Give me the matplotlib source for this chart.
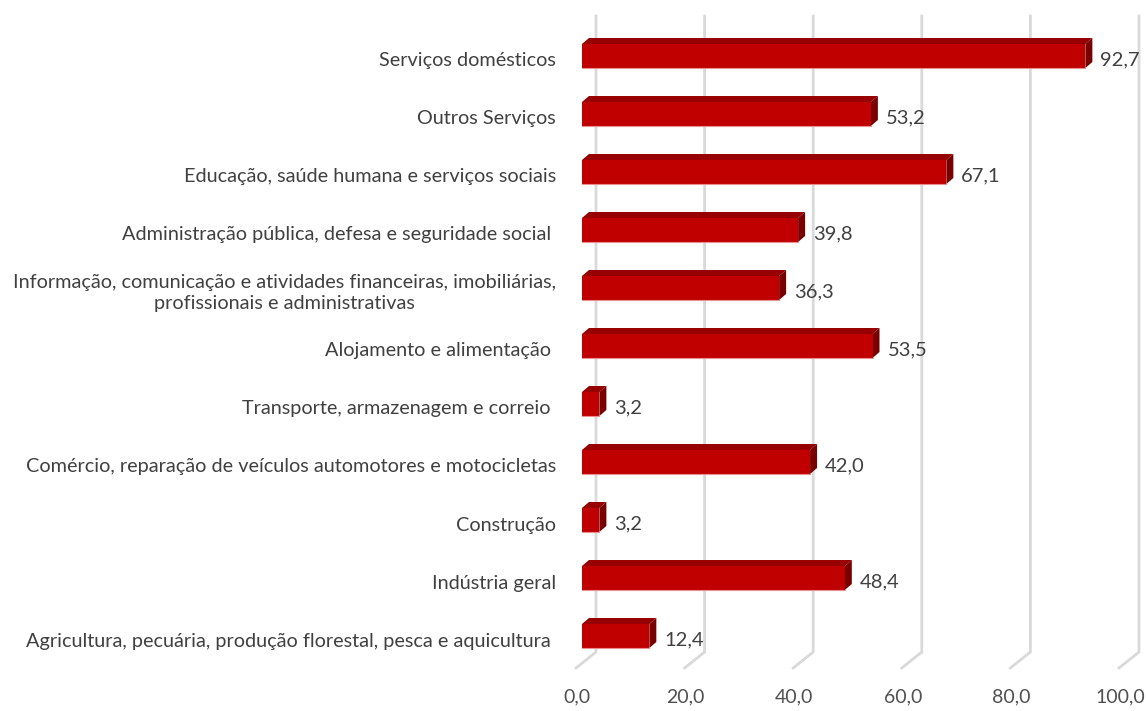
import matplotlib
matplotlib.use("Agg")
import matplotlib.pyplot as plt
from matplotlib.patches import Polygon, Rectangle

categories = [
    "Agricultura, pecuária, produção florestal, pesca e aquicultura ",
    "Indústria geral",
    "Construção",
    "Comércio, reparação de veículos automotores e motocicletas",
    "Transporte, armazenagem e correio ",
    "Alojamento e alimentação ",
    "Informação, comunicação e atividades financeiras, imobiliárias,\nprofissionais e administrativas",
    "Administração pública, defesa e seguridade social ",
    "Educação, saúde humana e serviços sociais",
    "Outros Serviços",
    "Serviços domésticos",
]
values = [12.4, 48.4, 3.2, 42.0, 3.2, 53.5, 36.3, 39.8, 67.1, 53.2, 92.7]
ticks = [0, 20, 40, 60, 80, 100]
tick_labels = ["0,0", "20,0", "40,0", "60,0", "80,0", "100,0"]

W, H = 1146, 711
fig = plt.figure(figsize=(W / 100, H / 100), dpi=100)
ax = fig.add_axes([0, 0, 1, 1])
ax.axis("off")

# scales: px per unit
sx = 5.43
sy = 58.0
x0px = 582
y0px = 636  # bottom category center
ax.set_xlim(-x0px / sx, (W - x0px) / sx)
ax.set_ylim(-(H - y0px) / sy, 10 + 56 / sy)

font = "Lato"
txtc = "#404040"

# wall gridlines (3D back wall + floor)
back_dx = 14 / sx
front_dx = -6 / sx
top_y = 10 + (56 - 16) / sy
wall_bottom = -(652 - 636) / sy
floor_front = -(668 - 636) / sy
grid_c = "#d9d9d9"
for t, lab in zip(ticks, tick_labels):
    ax.plot([t + back_dx, t + back_dx, t + front_dx],
            [top_y, wall_bottom, floor_front],
            color=grid_c, lw=2.0, solid_joinstyle="miter", zorder=1)
    ax.text(t + front_dx + 0.2, -(697 - 636) / sy, lab, ha="center", va="center",
            fontsize=14, color="#505050", family=font)

# bars with pseudo-3D faces
bh = 24 / sy
ddx = 7 / sx
ddy = 6 / sy
front_c = "#c00000"
top_c = "#960000"
side_c = "#7a0000"
edge_c = "#e89090"
for i, (cat, v) in enumerate(zip(categories, values)):
    yb = i - bh / 2
    yt = i + bh / 2
    # top face
    ax.add_patch(Polygon([(0, yt), (v, yt), (v + ddx, yt + ddy), (ddx, yt + ddy)],
                         closed=True, fc=top_c, ec="none", zorder=3))
    # side face
    ax.add_patch(Polygon([(v, yb), (v + ddx, yb + ddy), (v + ddx, yt + ddy), (v, yt)],
                         closed=True, fc=side_c, ec="none", zorder=3))
    # front face
    ax.add_patch(Rectangle((0, yb), v, bh, fc=front_c, ec="none", zorder=4))
    ax.plot([0, v], [yb, yb], color=edge_c, lw=0.8, zorder=4.5)
    ax.text(v + ddx + 8 / sx, i - 4 / sy, f"{v:.1f}".replace(".", ","),
            ha="left", va="center", fontsize=14.5, color=txtc, family=font, zorder=5)
    ax.text(-26 / sx, i - 5 / sy, cat, ha="right", va="center", multialignment="center",
            fontsize=14.3, color=txtc, family=font, linespacing=1.22, zorder=5)

fig.savefig("out.png", dpi=100)
